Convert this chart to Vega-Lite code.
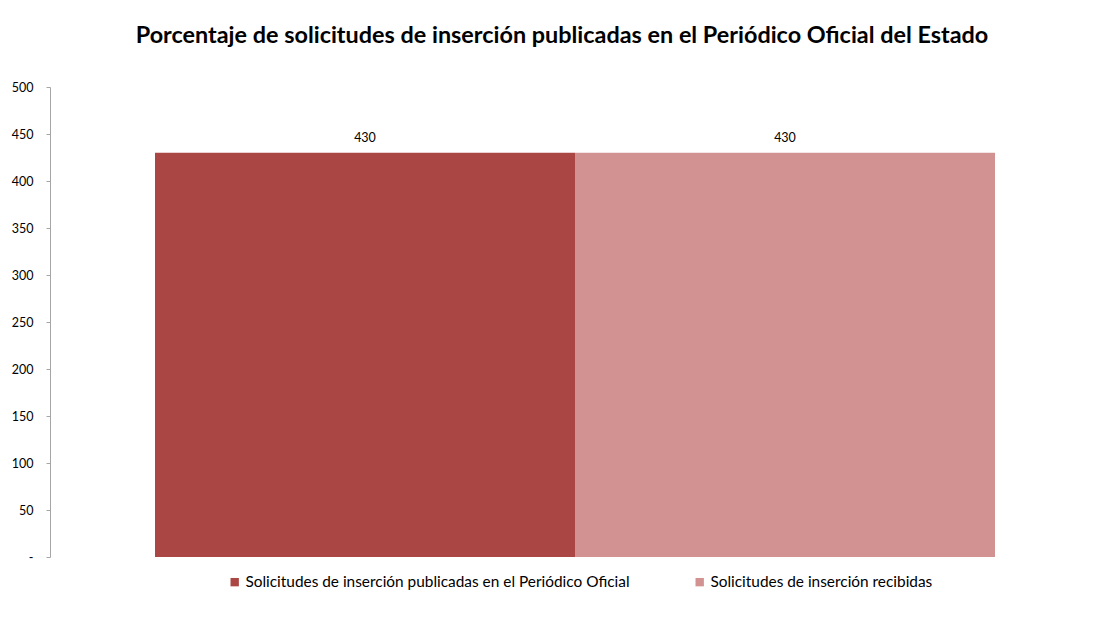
{
  "$schema": "https://vega.github.io/schema/vega-lite/v6.json",
  "width": 1050,
  "height": 470,
  "autosize": {"type": "none"},
  "padding": {"left": 50, "top": 87, "right": 5, "bottom": 78},
  "background": "white",
  "title": {
    "text": "Porcentaje de solicitudes de inserción publicadas en el Periódico Oficial del Estado",
    "font": "Lato",
    "fontSize": 23.4,
    "fontWeight": "bold",
    "color": "#000000",
    "anchor": "middle",
    "dx": -13,
    "offset": 33
  },
  "config": {
    "view": {"stroke": null},
    "font": "Lato"
  },
  "data": {
    "values": [
      {"serie": "Solicitudes de inserción publicadas en el Periódico Oficial", "valor": 430},
      {"serie": "Solicitudes de inserción recibidas", "valor": 430}
    ]
  },
  "encoding": {
    "x": {
      "field": "serie",
      "type": "nominal",
      "sort": null,
      "scale": {"paddingInner": 0, "paddingOuter": 0.25},
      "axis": null
    },
    "y": {
      "field": "valor",
      "type": "quantitative",
      "scale": {"domain": [0, 500], "nice": false},
      "axis": {
        "values": [0, 50, 100, 150, 200, 250, 300, 350, 400, 450, 500],
        "labelExpr": "datum.value == 0 ? '-' : datum.label",
        "grid": false,
        "domainColor": "#a6a6a6",
        "tickColor": "#a6a6a6",
        "tickSize": 4,
        "labelPadding": 13,
        "labelFont": "Lato",
        "labelFontSize": 12.5,
        "labelColor": "#000000",
        "title": null
      }
    }
  },
  "layer": [
    {
      "mark": {"type": "bar"},
      "encoding": {
        "color": {
          "field": "serie",
          "type": "nominal",
          "sort": null,
          "scale": {"range": ["#AA4744", "#D29292"]},
          "legend": {
            "title": null,
            "orient": "none",
            "direction": "horizontal",
            "legendX": 177,
            "legendY": 487,
            "symbolType": "square",
            "symbolSize": 70,
            "symbolStrokeWidth": 0,
            "symbolOpacity": 1,
            "labelFont": "Lato",
            "labelFontSize": 15.4,
            "labelColor": "#000000",
            "labelLimit": 500,
            "labelOffset": 3,
            "columnPadding": 62
          }
        }
      }
    },
    {
      "mark": {"type": "text", "dy": -15, "font": "Lato", "fontSize": 12.5, "color": "#000000"},
      "encoding": {
        "text": {"field": "valor", "type": "quantitative"}
      }
    }
  ]
}
